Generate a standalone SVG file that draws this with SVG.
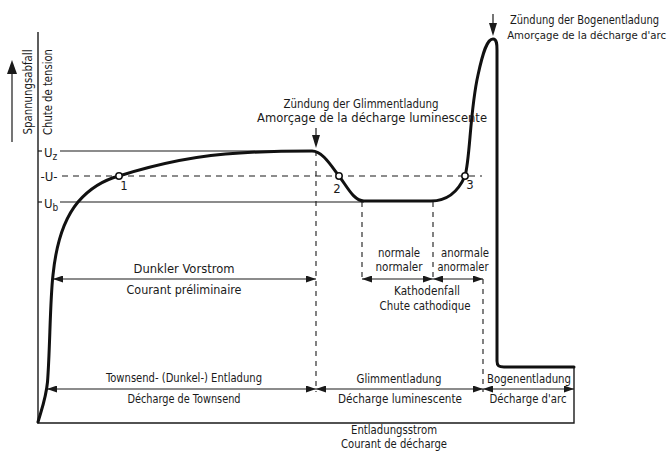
<svg xmlns="http://www.w3.org/2000/svg" width="672" height="453" viewBox="0 0 672 453">
<style>
text{font-family:"Liberation Sans Narrow","DejaVu Sans Condensed","Liberation Sans",sans-serif;font-size:13px;fill:#1a1a1a}
.m{text-anchor:middle}
.e{text-anchor:end;font-size:12px}
.ax{stroke:#1a1a1a;stroke-width:1.4;fill:none}
.ln{stroke:#1a1a1a;stroke-width:1.2;fill:none}
.ds{stroke:#1a1a1a;stroke-width:1.1;fill:none;stroke-dasharray:6 5}
.dv{stroke:#1a1a1a;stroke-width:1.1;fill:none;stroke-dasharray:5 5}
.ar{stroke:#1a1a1a;stroke-width:1.2;fill:none;marker-start:url(#ah);marker-end:url(#ah)}
.cv{stroke:#111;stroke-width:3;fill:none;stroke-linejoin:round;stroke-linecap:round}
.pt{fill:#fff;stroke:#111;stroke-width:1.5}
.hd{fill:#1a1a1a}
</style>
<defs>
<marker id="ah" viewBox="0 0 10 7" refX="10" refY="3.5" markerWidth="10" markerHeight="7" markerUnits="userSpaceOnUse" orient="auto-start-reverse">
<path d="M0,0 L10,3.5 L0,7 z" fill="#1a1a1a"/>
</marker>
</defs>

<g id="axes">
<path class="ax" d="M38,32 L38,423 L574,423 L574,367"/>
<path class="ln" d="M12,142 L12,72"/>
<path class="hd" d="M7,74 L12,60 L17,74 z"/>
<text transform="translate(32,92) rotate(-90)" class="m" textLength="85" lengthAdjust="spacingAndGlyphs">Spannungsabfall</text>
<text transform="translate(52,92) rotate(-90)" class="m" textLength="86" lengthAdjust="spacingAndGlyphs">Chute de tension</text>
<text x="394" y="434" class="m" textLength="86" lengthAdjust="spacingAndGlyphs">Entladungsstrom</text>
<text x="394" y="448" class="m" textLength="106" lengthAdjust="spacingAndGlyphs">Courant de décharge</text>
</g>

<g id="levels">
<path class="ln" d="M60,151 L314,151"/>
<path class="ds" d="M62,176 L482,176"/>
<path class="ln" d="M60,202 L364,202"/>
<path class="ln" d="M38,151 L42,151"/>
<text x="44" y="157">U<tspan font-size="10" dy="3">z</tspan></text>
<text x="49" y="181" class="m">-U-</text>
<path class="ln" d="M38,202 L42,202"/>
<text x="44" y="208">U<tspan font-size="10" dy="3">b</tspan></text>
</g>

<g id="connectors">
<path class="dv" d="M316,151 L316,392"/>
<path class="dv" d="M362,202 L362,282"/>
<path class="dv" d="M433,202 L433,282"/>
<path class="dv" d="M483,279 L483,392"/>
<path class="ar" d="M53,279 L316,279"/>
<path class="ar" d="M362,279 L433,279"/>
<path class="ar" d="M433,279 L483,279"/>
<path class="ar" d="M47,389 L316,389"/>
<path class="ar" d="M316,389 L483,389"/>
<path class="ar" d="M483,389 L574,389"/>
<path class="ln" d="M316,128 L316,138"/>
<path class="hd" d="M312,135 L320,135 L316,148 z"/>
<path class="ln" d="M493,14 L493,25"/>
<path class="hd" d="M489,23 L497,23 L493,36 z"/>
</g>

<g id="curve">
<path class="cv" d="M38,422 C42,408 46,398 47.5,382 C50,350 50,300 53,275 C56,245 63,220 78,202 C90,188 104,180 119,176 C160,163 200,155 240,153 C270,151 300,151 312,151 C322,151 330,164 339,176 C348,188 354,201 364,201 L431,201 C446,201 458,192 465,176 C470,160 470,110 478,75 C483,52 487,39 493,39 C497,39 497,45 497,50 L497,361 C497,366 499,367 504,367 L574,367"/>
<circle class="pt" cx="119" cy="176" r="3.2"/>
<circle class="pt" cx="339" cy="176" r="3.2"/>
<circle class="pt" cx="465" cy="176" r="3.2"/>
<text x="124" y="190" class="m">1</text>
<text x="337" y="193" class="m">2</text>
<text x="470" y="189" class="m">3</text>
</g>

<g id="ignition-glimm">
<text x="361" y="108" class="m" textLength="155" lengthAdjust="spacingAndGlyphs">Zündung der Glimmentladung</text>
<text x="372" y="122" class="m" textLength="230" lengthAdjust="spacingAndGlyphs">Amorçage de la décharge luminescente</text>
</g>

<g id="ignition-bogen">
<text x="659" y="24" class="e" textLength="149" lengthAdjust="spacingAndGlyphs">Zündung der Bogenentladung</text>
<text x="666" y="39" class="e" font-size="11.3" style="font-size:11.3px">Amorçage de la décharge d'arc</text>
</g>

<g id="vorstrom">
<text x="184" y="273" class="m" textLength="101" lengthAdjust="spacingAndGlyphs">Dunkler Vorstrom</text>
<text x="184" y="294" class="m" textLength="115" lengthAdjust="spacingAndGlyphs">Courant préliminaire</text>
</g>

<g id="kathodenfall">
<text x="399" y="257" class="m" textLength="42" lengthAdjust="spacingAndGlyphs">normale</text>
<text x="399" y="271" class="m" textLength="47" lengthAdjust="spacingAndGlyphs">normaler</text>
<text x="465" y="257" class="m" textLength="48" lengthAdjust="spacingAndGlyphs">anormale</text>
<text x="463" y="271" class="m" textLength="51" lengthAdjust="spacingAndGlyphs">anormaler</text>
<text x="427" y="295" class="m" textLength="66" lengthAdjust="spacingAndGlyphs">Kathodenfall</text>
<text x="425" y="310" class="m" textLength="91" lengthAdjust="spacingAndGlyphs">Chute cathodique</text>
</g>

<g id="townsend">
<text x="184" y="382" class="m" textLength="156" lengthAdjust="spacingAndGlyphs">Townsend- (Dunkel-) Entladung</text>
<text x="184" y="403" class="m" textLength="113" lengthAdjust="spacingAndGlyphs">Décharge de Townsend</text>
</g>

<g id="glimm">
<text x="399" y="383" class="m" textLength="85" lengthAdjust="spacingAndGlyphs">Glimmentladung</text>
<text x="400" y="403" class="m" textLength="124" lengthAdjust="spacingAndGlyphs">Décharge luminescente</text>
</g>

<g id="bogen">
<text x="529" y="383" class="m" textLength="84" lengthAdjust="spacingAndGlyphs">Bogenentladung</text>
<text x="528" y="403" class="m" textLength="77" lengthAdjust="spacingAndGlyphs">Décharge d'arc</text>
</g>
</svg>
